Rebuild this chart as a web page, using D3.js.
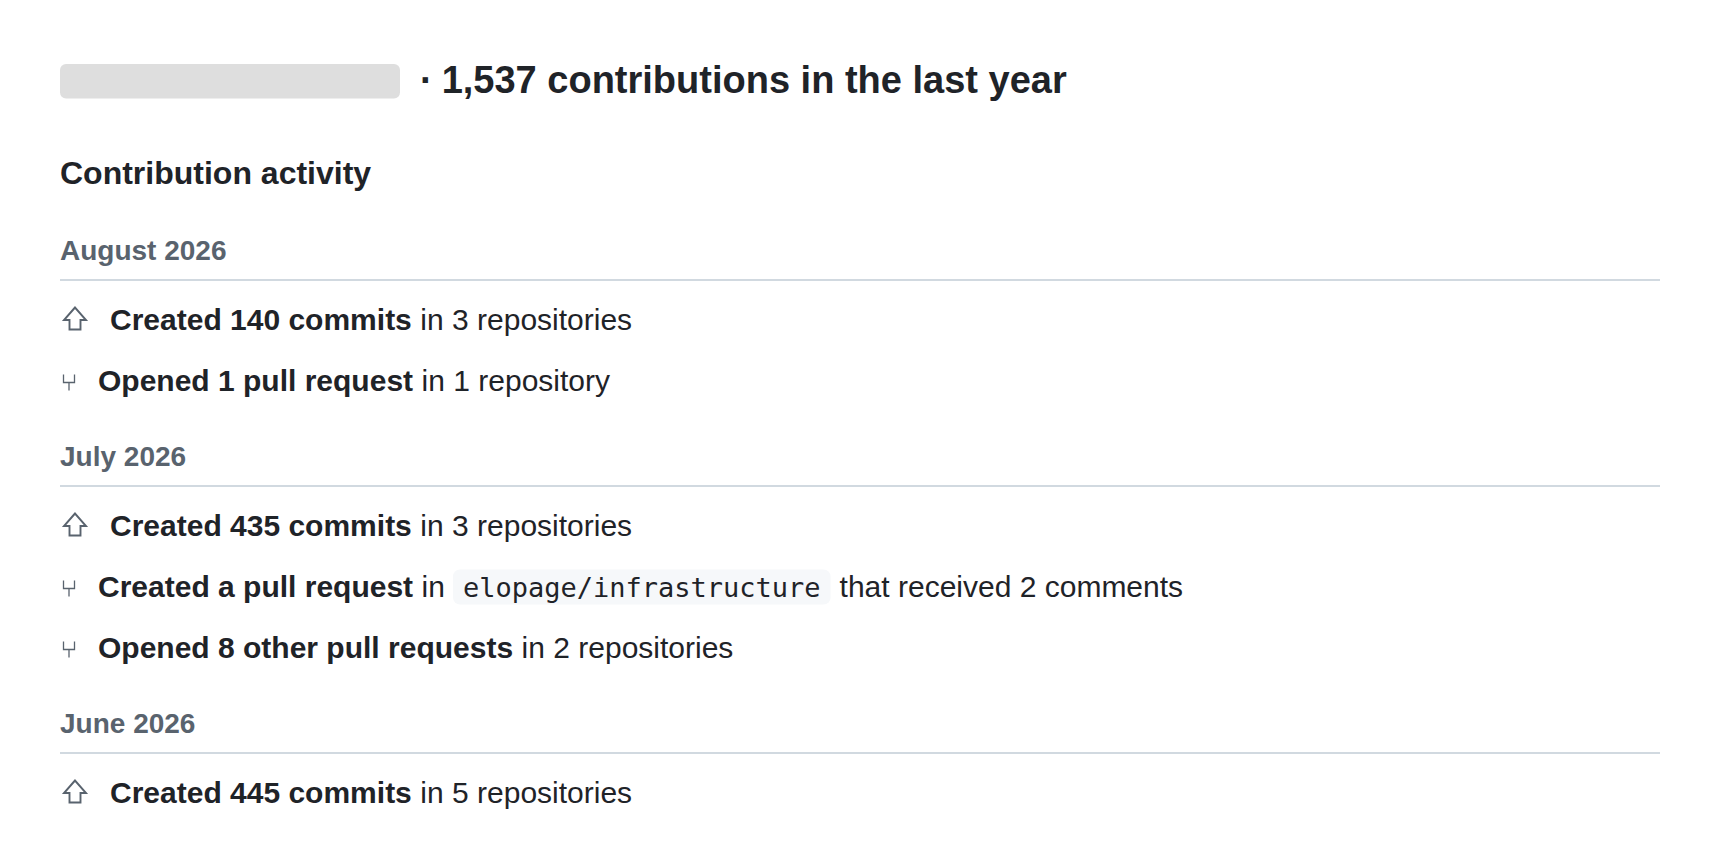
<!DOCTYPE html>
<html>
<head>
<meta charset="utf-8">
<script src="https://cdn.jsdelivr.net/npm/d3@7"></script>
<style>
  html, body { margin: 0; padding: 0; background: #fff; overflow: hidden; }
  text { font-family: "Liberation Sans", sans-serif; }
</style>
</head>
<body>
<div id="chart"></div>
<script>
const totalContributions = '1,537';
const headline = 'contributions in the last year';
const sectionTitle = 'Contribution activity';
const months = ['August 2026', 'July 2026', 'June 2026'];
const augustRows = [
  { icon: 'commit', bold: 'Created 140 commits', rest: 'in 3 repositories' },
  { icon: 'pull', bold: 'Opened 1 pull request', rest: 'in 1 repository' }
];
const julyRows = [
  { icon: 'commit', bold: 'Created 435 commits', rest: 'in 3 repositories' },
  { icon: 'pull', bold: 'Created a pull request', rest: 'in', code: 'elopage/infrastructure', after: 'that received 2 comments' },
  { icon: 'pull', bold: 'Opened 8 other pull requests', rest: 'in 2 repositories' }
];
const juneRows = [
  { icon: 'commit', bold: 'Created 445 commits', rest: 'in 5 repositories' }
];
const monthRows = [augustRows, julyRows, juneRows];

const width = 1720;
const height = 849;
const left = 60;
const right = 1660;
const ink = '#1f2328';
const muted = '#59636e';

const svg = d3.select('#chart')
  .append('svg')
  .attr('width', width)
  .attr('height', height);

// redacted user name
svg.append('rect')
  .attr('x', left).attr('y', 64)
  .attr('width', 340).attr('height', 34.5)
  .attr('rx', 6)
  .attr('fill', '#dedede');

const heading = svg.append('text')
  .attr('x', 420).attr('y', 92.5)
  .attr('font-size', 38).attr('font-weight', 700)
  .attr('fill', ink);
heading.append('tspan').text('·');
heading.append('tspan').attr('dx', 9).text(`${totalContributions} ${headline}`);

svg.append('text')
  .attr('x', left).attr('y', 184)
  .attr('font-size', 32).attr('font-weight', 700)
  .attr('fill', ink)
  .text(sectionTitle);

function drawIcon(g, type) {
  if (type === 'commit') {
    const p = d3.path();
    p.moveTo(75, -22); p.lineTo(64, -9.5); p.lineTo(69.5, -9.5);
    p.lineTo(69.5, 0); p.lineTo(80.5, 0); p.lineTo(80.5, -9.5);
    p.lineTo(86, -9.5); p.closePath();
    g.append('path').attr('d', p.toString())
      .attr('fill', 'none').attr('stroke', muted).attr('stroke-width', 1.9);
  } else {
    const p = d3.path();
    p.moveTo(63.5, -16); p.lineTo(63.5, -8); p.lineTo(74.5, -8); p.lineTo(74.5, -16);
    p.moveTo(69, -8); p.lineTo(69, 0);
    g.append('path').attr('d', p.toString())
      .attr('fill', 'none').attr('stroke', muted).attr('stroke-width', 1.3);
  }
}

function drawRow(row, y) {
  const g = svg.append('g').attr('transform', `translate(0, ${y})`);
  const textX = row.icon === 'commit' ? 110 : 98;
  const fontSize = 30;

  g.call(drawIcon, row.icon);

  const label = g.append('text')
    .attr('x', textX)
    .attr('font-size', fontSize)
    .attr('fill', ink);
  label.append('tspan').attr('font-weight', 700).text(row.bold);
  label.append('tspan').attr('dx', 8.5).text(row.rest);

  if (!row.code) return;

  const chipX = textX + label.node().getComputedTextLength() + 8.5 + 8;
  const chip = g.append('rect')
    .attr('x', chipX).attr('y', -27)
    .attr('height', 35).attr('rx', 7)
    .attr('fill', '#f6f8fa');
  const code = g.append('text')
    .attr('x', chipX + 10)
    .attr('font-size', 27)
    .attr('fill', ink)
    .style('font-family', '"DejaVu Sans Mono", monospace')
    .text(row.code);
  const chipWidth = code.node().getComputedTextLength() + 20;
  chip.attr('width', chipWidth);

  g.append('text')
    .attr('x', chipX + chipWidth + 9)
    .attr('font-size', fontSize)
    .attr('fill', ink)
    .text(row.after);
}

// walk down the months, each row sits one step under the last
let y = 260;
months.forEach((month, i) => {
  svg.append('text')
    .attr('x', left).attr('y', y)
    .attr('font-size', 28).attr('font-weight', 700)
    .attr('fill', muted)
    .text(month);

  svg.append('line')
    .attr('x1', left).attr('x2', right)
    .attr('y1', y + 20).attr('y2', y + 20)
    .attr('stroke', '#d1d9e0').attr('stroke-width', 2);

  let rowY = y + 69.5;
  monthRows[i].forEach((row) => {
    drawRow(row, rowY);
    rowY += 61;
  });
  y = rowY + 14.5;
});
</script>
</body>
</html>
